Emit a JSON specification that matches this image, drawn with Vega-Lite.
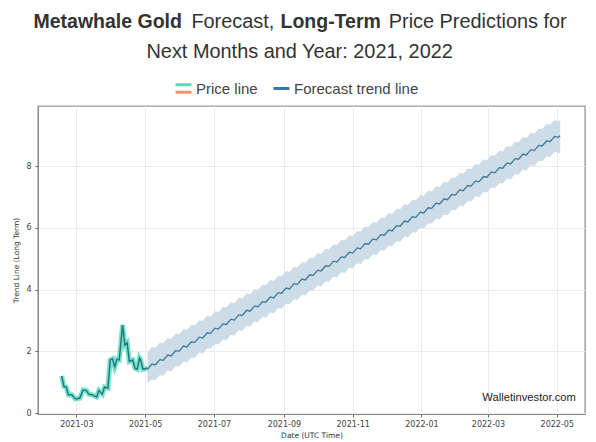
{
  "$schema": "https://vega.github.io/schema/vega-lite/v6.json",
  "autosize": "none",
  "padding": {"left": 38, "top": 106, "right": 11, "bottom": 28},
  "width": 547,
  "height": 308,
  "background": "white",
  "config": {"view": {"stroke": "#999999", "strokeWidth": 1.4}},
  "datasets": {
    "price": [
      {"date":"2021-02-16","y":1.2},{"date":"2021-02-18","y":0.86},{"date":"2021-02-20","y":0.84},{"date":"2021-02-22","y":0.59},
      {"date":"2021-02-25","y":0.59},{"date":"2021-02-28","y":0.46},{"date":"2021-03-04","y":0.48},{"date":"2021-03-07","y":0.75},
      {"date":"2021-03-10","y":0.73},{"date":"2021-03-12","y":0.61},{"date":"2021-03-15","y":0.59},{"date":"2021-03-19","y":0.52},
      {"date":"2021-03-21","y":0.73},{"date":"2021-03-24","y":0.61},{"date":"2021-03-26","y":0.84},{"date":"2021-03-29","y":0.81},
      {"date":"2021-03-31","y":1.72},{"date":"2021-04-02","y":1.76},{"date":"2021-04-04","y":1.5},{"date":"2021-04-06","y":1.74},
      {"date":"2021-04-08","y":1.72},{"date":"2021-04-11","y":2.85},{"date":"2021-04-13","y":2.2},{"date":"2021-04-15","y":2.28},
      {"date":"2021-04-17","y":1.67},{"date":"2021-04-20","y":1.72},{"date":"2021-04-22","y":1.45},{"date":"2021-04-24","y":1.42},
      {"date":"2021-04-26","y":1.78},{"date":"2021-04-27","y":1.72},{"date":"2021-04-29","y":1.42},{"date":"2021-05-03","y":1.45}
    ],
    "forecast": [
      {"date":"2021-05-03","y":1.42,"lo":0.98,"hi":1.97},{"date":"2021-05-07","y":1.59,"lo":1.09,"hi":2.14},
      {"date":"2021-05-10","y":1.56,"lo":1.06,"hi":2.11},{"date":"2021-05-14","y":1.73,"lo":1.23,"hi":2.28},
      {"date":"2021-05-17","y":1.71,"lo":1.21,"hi":2.26},{"date":"2021-05-21","y":1.88,"lo":1.38,"hi":2.43},
      {"date":"2021-05-24","y":1.85,"lo":1.35,"hi":2.40},{"date":"2021-05-28","y":2.02,"lo":1.52,"hi":2.57},
      {"date":"2021-05-31","y":2.00,"lo":1.50,"hi":2.55},{"date":"2021-06-04","y":2.17,"lo":1.67,"hi":2.72},
      {"date":"2021-06-07","y":2.14,"lo":1.64,"hi":2.69},{"date":"2021-06-11","y":2.31,"lo":1.81,"hi":2.86},
      {"date":"2021-06-14","y":2.29,"lo":1.79,"hi":2.84},{"date":"2021-06-18","y":2.46,"lo":1.96,"hi":3.01},
      {"date":"2021-06-21","y":2.43,"lo":1.93,"hi":2.98},{"date":"2021-06-25","y":2.60,"lo":2.10,"hi":3.15},
      {"date":"2021-06-28","y":2.58,"lo":2.08,"hi":3.13},{"date":"2021-07-02","y":2.75,"lo":2.25,"hi":3.30},
      {"date":"2021-07-05","y":2.72,"lo":2.22,"hi":3.27},{"date":"2021-07-09","y":2.89,"lo":2.39,"hi":3.44},
      {"date":"2021-07-12","y":2.87,"lo":2.37,"hi":3.42},{"date":"2021-07-16","y":3.04,"lo":2.54,"hi":3.59},
      {"date":"2021-07-19","y":3.01,"lo":2.51,"hi":3.56},{"date":"2021-07-23","y":3.18,"lo":2.68,"hi":3.73},
      {"date":"2021-07-26","y":3.16,"lo":2.66,"hi":3.71},{"date":"2021-07-30","y":3.33,"lo":2.83,"hi":3.88},
      {"date":"2021-08-02","y":3.30,"lo":2.80,"hi":3.85},{"date":"2021-08-06","y":3.47,"lo":2.97,"hi":4.02},
      {"date":"2021-08-09","y":3.44,"lo":2.94,"hi":3.99},{"date":"2021-08-13","y":3.61,"lo":3.11,"hi":4.16},
      {"date":"2021-08-16","y":3.59,"lo":3.09,"hi":4.14},{"date":"2021-08-20","y":3.76,"lo":3.26,"hi":4.31},
      {"date":"2021-08-23","y":3.73,"lo":3.23,"hi":4.28},{"date":"2021-08-27","y":3.90,"lo":3.40,"hi":4.45},
      {"date":"2021-08-30","y":3.88,"lo":3.38,"hi":4.43},{"date":"2021-09-03","y":4.05,"lo":3.55,"hi":4.60},
      {"date":"2021-09-06","y":4.02,"lo":3.52,"hi":4.57},{"date":"2021-09-10","y":4.19,"lo":3.69,"hi":4.74},
      {"date":"2021-09-13","y":4.17,"lo":3.67,"hi":4.72},{"date":"2021-09-17","y":4.34,"lo":3.84,"hi":4.89},
      {"date":"2021-09-20","y":4.31,"lo":3.81,"hi":4.86},{"date":"2021-09-24","y":4.48,"lo":3.98,"hi":5.03},
      {"date":"2021-09-27","y":4.46,"lo":3.96,"hi":5.01},{"date":"2021-10-01","y":4.63,"lo":4.13,"hi":5.18},
      {"date":"2021-10-04","y":4.60,"lo":4.10,"hi":5.15},{"date":"2021-10-08","y":4.77,"lo":4.27,"hi":5.32},
      {"date":"2021-10-11","y":4.75,"lo":4.25,"hi":5.30},{"date":"2021-10-15","y":4.92,"lo":4.42,"hi":5.47},
      {"date":"2021-10-18","y":4.89,"lo":4.39,"hi":5.44},{"date":"2021-10-22","y":5.06,"lo":4.56,"hi":5.61},
      {"date":"2021-10-25","y":5.04,"lo":4.54,"hi":5.59},{"date":"2021-10-29","y":5.21,"lo":4.71,"hi":5.76},
      {"date":"2021-11-01","y":5.18,"lo":4.68,"hi":5.73},{"date":"2021-11-05","y":5.35,"lo":4.85,"hi":5.90},
      {"date":"2021-11-08","y":5.32,"lo":4.82,"hi":5.87},{"date":"2021-11-12","y":5.49,"lo":4.99,"hi":6.04},
      {"date":"2021-11-15","y":5.47,"lo":4.97,"hi":6.02},{"date":"2021-11-19","y":5.64,"lo":5.14,"hi":6.19},
      {"date":"2021-11-22","y":5.61,"lo":5.11,"hi":6.16},{"date":"2021-11-26","y":5.78,"lo":5.28,"hi":6.33},
      {"date":"2021-11-29","y":5.76,"lo":5.26,"hi":6.31},{"date":"2021-12-03","y":5.93,"lo":5.43,"hi":6.48},
      {"date":"2021-12-06","y":5.90,"lo":5.40,"hi":6.45},{"date":"2021-12-10","y":6.07,"lo":5.57,"hi":6.62},
      {"date":"2021-12-13","y":6.05,"lo":5.55,"hi":6.60},{"date":"2021-12-17","y":6.22,"lo":5.72,"hi":6.77},
      {"date":"2021-12-20","y":6.19,"lo":5.69,"hi":6.74},{"date":"2021-12-24","y":6.36,"lo":5.86,"hi":6.91},
      {"date":"2021-12-27","y":6.34,"lo":5.84,"hi":6.89},{"date":"2021-12-31","y":6.51,"lo":6.01,"hi":7.06},
      {"date":"2022-01-03","y":6.48,"lo":5.98,"hi":7.03},{"date":"2022-01-07","y":6.65,"lo":6.15,"hi":7.20},
      {"date":"2022-01-10","y":6.63,"lo":6.13,"hi":7.18},{"date":"2022-01-14","y":6.80,"lo":6.30,"hi":7.35},
      {"date":"2022-01-17","y":6.77,"lo":6.27,"hi":7.32},{"date":"2022-01-21","y":6.94,"lo":6.44,"hi":7.49},
      {"date":"2022-01-24","y":6.91,"lo":6.41,"hi":7.46},{"date":"2022-01-28","y":7.08,"lo":6.58,"hi":7.63},
      {"date":"2022-01-31","y":7.06,"lo":6.56,"hi":7.61},{"date":"2022-02-04","y":7.23,"lo":6.73,"hi":7.78},
      {"date":"2022-02-07","y":7.20,"lo":6.70,"hi":7.75},{"date":"2022-02-11","y":7.37,"lo":6.87,"hi":7.92},
      {"date":"2022-02-14","y":7.35,"lo":6.85,"hi":7.90},{"date":"2022-02-18","y":7.52,"lo":7.02,"hi":8.07},
      {"date":"2022-02-21","y":7.49,"lo":6.99,"hi":8.04},{"date":"2022-02-25","y":7.66,"lo":7.16,"hi":8.21},
      {"date":"2022-02-28","y":7.64,"lo":7.14,"hi":8.19},{"date":"2022-03-04","y":7.81,"lo":7.31,"hi":8.36},
      {"date":"2022-03-07","y":7.78,"lo":7.28,"hi":8.33},{"date":"2022-03-11","y":7.95,"lo":7.45,"hi":8.50},
      {"date":"2022-03-14","y":7.93,"lo":7.43,"hi":8.48},{"date":"2022-03-18","y":8.10,"lo":7.60,"hi":8.65},
      {"date":"2022-03-21","y":8.07,"lo":7.57,"hi":8.62},{"date":"2022-03-25","y":8.24,"lo":7.74,"hi":8.79},
      {"date":"2022-03-28","y":8.22,"lo":7.72,"hi":8.77},{"date":"2022-04-01","y":8.39,"lo":7.89,"hi":8.94},
      {"date":"2022-04-04","y":8.36,"lo":7.86,"hi":8.91},{"date":"2022-04-08","y":8.53,"lo":8.03,"hi":9.08},
      {"date":"2022-04-11","y":8.50,"lo":8.00,"hi":9.05},{"date":"2022-04-15","y":8.67,"lo":8.17,"hi":9.22},
      {"date":"2022-04-18","y":8.65,"lo":8.15,"hi":9.20},{"date":"2022-04-22","y":8.82,"lo":8.32,"hi":9.37},
      {"date":"2022-04-25","y":8.79,"lo":8.29,"hi":9.34},{"date":"2022-04-29","y":8.96,"lo":8.46,"hi":9.48},
      {"date":"2022-05-02","y":8.93,"lo":8.43,"hi":9.45},{"date":"2022-05-04","y":8.98,"lo":8.42,"hi":9.48}
    ],
    "boldTitle": [
      {"date":"2021-01-22","y":12.66,"label":"Metawhale Gold"},
      {"date":"2021-08-29","y":12.66,"label":"Long-Term"}
    ],
    "plainTitle": [
      {"date":"2021-06-11","y":12.66,"label":"Forecast,"},
      {"date":"2021-12-03","y":12.66,"label":"Price Predictions for"}
    ],
    "titleLine2": [
      {"date":"2021-09-15","y":11.69,"label":"Next Months and Year: 2021, 2022"}
    ],
    "credit": [
      {"date":"2022-02-24","y":0.5,"label":"Walletinvestor.com"}
    ]
  },
  "encoding": {
    "x": {
      "field": "date",
      "type": "temporal",
      "scale": {"type": "utc", "domain": ["2021-01-26", "2022-05-26"]},
      "axis": {
        "title": "Date (UTC Time)",
        "titleFont": "DejaVu Sans",
        "titleFontSize": 7.5,
        "titleFontWeight": "normal",
        "titleColor": "#333333",
        "titlePadding": 3,
        "labelFont": "DejaVu Sans",
        "labelFontSize": 8,
        "labelColor": "#444444",
        "labelPadding": 3,
        "labelExpr": "utcFormat(datum.value, '%Y-%m')",
        "values": ["2021-03-01", "2021-05-01", "2021-07-01", "2021-09-01", "2021-11-01", "2022-01-01", "2022-03-01", "2022-05-01"],
        "grid": true,
        "gridColor": "#ececec",
        "domainColor": "#888888",
        "tickColor": "#666666",
        "tickSize": 3
      }
    },
    "y": {
      "field": "y",
      "type": "quantitative",
      "scale": {"domain": [-0.03, 9.945], "nice": false, "zero": false},
      "axis": {
        "title": "Trend Line (Long Term)",
        "titleFont": "DejaVu Sans",
        "titleFontSize": 7.5,
        "titleFontWeight": "normal",
        "titleColor": "#333333",
        "titlePadding": 5,
        "labelFont": "DejaVu Sans",
        "labelFontSize": 8,
        "labelColor": "#444444",
        "labelPadding": 4,
        "values": [0, 2, 4, 6, 8],
        "grid": true,
        "gridColor": "#ececec",
        "domainColor": "#888888",
        "tickColor": "#666666",
        "tickSize": 3
      }
    }
  },
  "layer": [
    {
      "data": {"name": "forecast"},
      "mark": {"type": "area", "color": "#cddce6"},
      "encoding": {
        "y": {"field": "lo", "type": "quantitative"},
        "y2": {"field": "hi"}
      }
    },
    {
      "data": {"name": "price"},
      "mark": {"type": "line", "strokeWidth": 1},
      "encoding": {
        "color": {
          "datum": "Price line",
          "scale": {"domain": ["Price line"], "range": ["#fb8f76"]},
          "legend": {
            "orient": "none", "legendX": 136, "legendY": -27, "title": null,
            "symbolType": "M-1,0.47H1", "symbolSize": 256, "symbolStrokeWidth": 3,
            "labelExpr": "''"
          }
        }
      }
    },
    {
      "data": {"name": "price"},
      "mark": {"type": "line", "strokeWidth": 5, "opacity": 0.8},
      "encoding": {
        "color": {
          "datum": "Price line",
          "scale": {"domain": ["Price line"], "range": ["#4fe0b8"]},
          "legend": {
            "orient": "none", "legendX": 136, "legendY": -27, "title": null,
            "symbolType": "M-1,-0.47H1", "symbolSize": 256, "symbolStrokeWidth": 3, "symbolOpacity": 1,
            "labelFont": "Liberation Sans", "labelFontSize": 15, "labelColor": "#444444", "labelOffset": 3
          }
        }
      }
    },
    {
      "data": {"name": "price"},
      "mark": {"type": "line", "strokeWidth": 1.4, "color": "#2a6f85"}
    },
    {
      "data": {"name": "forecast"},
      "mark": {"type": "line", "strokeWidth": 1.3},
      "encoding": {
        "color": {
          "datum": "Forecast trend line",
          "scale": {"domain": ["Forecast trend line"], "range": ["#3a7a9c"]},
          "legend": {
            "orient": "none", "legendX": 234, "legendY": -27, "title": null,
            "symbolType": "stroke", "symbolSize": 256, "symbolStrokeWidth": 3, "symbolStrokeColor": "#145e88",
            "labelFont": "Liberation Sans", "labelFontSize": 15, "labelColor": "#444444", "labelOffset": 3
          }
        }
      }
    },
    {
      "data": {"name": "credit"},
      "mark": {"type": "text", "align": "left", "baseline": "middle", "font": "Liberation Sans", "fontSize": 11.2, "color": "#222222"},
      "encoding": {"text": {"field": "label"}}
    },
    {
      "data": {"name": "boldTitle"},
      "mark": {"type": "text", "align": "left", "baseline": "middle", "font": "Liberation Sans", "fontSize": 19.5, "fontWeight": "bold", "color": "#333333"},
      "encoding": {"text": {"field": "label"}}
    },
    {
      "data": {"name": "plainTitle"},
      "mark": {"type": "text", "align": "left", "baseline": "middle", "font": "Liberation Sans", "fontSize": 19.9, "color": "#333333"},
      "encoding": {"text": {"field": "label"}}
    },
    {
      "data": {"name": "titleLine2"},
      "mark": {"type": "text", "align": "center", "baseline": "middle", "font": "Liberation Sans", "fontSize": 19.9, "color": "#333333"},
      "encoding": {"text": {"field": "label"}}
    }
  ],
  "resolve": {"scale": {"color": "independent"}}
}
